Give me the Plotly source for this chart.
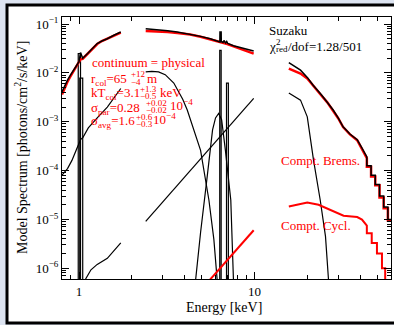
import plotly.graph_objects as go

# ---------------- data ----------------
# total model, XIS low-energy part
e_tot1 = [0.80, 0.83, 0.86, 0.89, 0.92, 0.96, 1.00, 1.02, 1.05, 1.12, 1.20, 1.27, 1.35, 1.45, 1.58, 1.73]
tot1_black = [0.0041, 0.0055, 0.0071, 0.0088, 0.0105, 0.0135, 0.0170, 0.026, 0.020, 0.025, 0.032, 0.040, 0.045, 0.050, 0.059, 0.069]
tot1_red = [0.0036, 0.0050, 0.0066, 0.0083, 0.0100, 0.0130, 0.0165, 0.019, 0.0195, 0.0245, 0.031, 0.039, 0.045, 0.050, 0.058, 0.067]

# total model, XIS 2.4-10 keV
e_tot2 = [2.40, 2.79, 3.20, 3.63, 4.30, 4.93, 5.60, 6.20, 6.35, 6.36, 6.46, 6.47, 6.62, 6.70, 6.85, 6.95, 7.05, 7.60, 8.50, 9.90]
tot2_black = [0.080, 0.077, 0.073, 0.069, 0.062, 0.056, 0.050, 0.045, 0.043, 0.069, 0.069, 0.044, 0.042, 0.046, 0.041, 0.044, 0.040, 0.036, 0.032, 0.028]
e_tot2r = [2.40, 2.79, 3.20, 3.63, 4.30, 4.93, 5.60, 6.20, 7.00, 7.60, 8.50, 9.90]
tot2_red = [0.072, 0.071, 0.069, 0.066, 0.061, 0.055, 0.049, 0.044, 0.039, 0.035, 0.030, 0.0248]

# total model, PIN part
e_tot3 = [15.7, 17.0, 18.3, 20.0, 21.6, 24.0, 26.0, 28.1, 30.0, 32.0, 35.0, 38.5, 41.0, 43.7, 43.7, 46.2, 46.2, 48.8, 48.8, 51.6, 51.6, 54.5, 54.5, 57.6, 57.6, 61.0]
tot3_black = [0.0163, 0.0135, 0.0114, 0.0081, 0.0056, 0.0036, 0.0025, 0.00174, 0.0012, 0.00079, 0.00056, 0.00043, 0.00029,
              0.00019, 0.000125, 0.000125, 8.0e-5, 8.0e-5, 5.2e-5, 5.2e-5, 3.0e-5, 3.0e-5, 1.8e-5, 1.8e-5, 1.0e-5, 1.0e-5]
tot3_red = [0.0123, 0.0110, 0.0097, 0.0077, 0.0054, 0.0035, 0.0025, 0.0017, 0.00118, 0.00078, 0.00055, 0.00042, 0.00028,
            0.00018, 0.00012, 0.00012, 7.6e-5, 7.6e-5, 5.0e-5, 5.0e-5, 2.8e-5, 2.8e-5, 1.7e-5, 1.7e-5, 9.5e-6, 9.5e-6]

# low-energy continuum component (XIS 0.8-1.73)
e_comp1 = [0.80, 0.86, 0.91, 0.97, 1.02, 1.05, 1.13, 1.27, 1.45, 1.73]
comp1 = [8.1e-5, 1.1e-4, 1.6e-4, 2.8e-4, 4.3e-4, 4.7e-4, 7.5e-4, 1.2e-3, 2.0e-3, 4.8e-3]
e_comp1b = [1.09, 1.17, 1.27, 1.45, 1.73]
comp1b = [6.0e-7, 9.3e-7, 1.2e-6, 1.6e-6, 3.3e-6]

# narrow line near 1 keV (histogram bins)
e_line1a = [0.99, 0.99, 1.02, 1.02]
line1a = [4e-7, 0.025, 0.025, 4e-7]
e_line1b = [1.01, 1.01, 1.05, 1.05]
line1b = [4e-7, 0.0078, 0.0078, 4e-7]

# components in 2.4-10 keV
e_pow = [2.40, 4.93, 9.90]
pow_black = [9.1e-6, 1.7e-4, 3.0e-3]
e_bb = [2.40, 2.60, 2.84, 3.10, 3.47, 3.90, 4.14, 4.51, 4.93, 5.50, 5.87, 6.15]
bb = [0.0105, 0.0108, 0.0105, 0.0092, 0.0062, 0.0029, 1.74e-3, 6.8e-4, 2.6e-4, 2.5e-5, 3.9e-6, 5e-7]
e_gau = [4.60, 4.93, 5.38, 5.77, 6.00, 6.25, 6.50, 6.83, 7.33, 7.60]
gau = [5e-7, 5.4e-6, 7.6e-5, 6.8e-4, 1.2e-3, 1.48e-3, 1.1e-3, 2.6e-4, 2.5e-5, 5e-7]
e_fe1 = [6.34, 6.34, 6.46, 6.46]
fe1 = [4e-7, 0.029, 0.029, 4e-7]
e_fe2 = [6.93, 6.93, 7.10, 7.10]
fe2 = [4e-7, 0.0062, 0.0062, 4e-7]
e_cyc2 = [5.50, 9.90]
cyc2 = [5.5e-7, 6.0e-6]

# PIN components
e_brems = [15.7, 18.3, 20.0, 20.8, 21.7, 23.7, 25.4, 26.5]
brems = [3.9e-3, 2.77e-3, 1.26e-3, 4.3e-4, 1.66e-4, 2.5e-5, 4.5e-6, 5e-7]
e_cycl = [15.7, 20.0, 23.2, 28.2, 32.2, 38.5, 41.0, 43.7, 43.7, 46.6, 46.6, 49.9, 49.9, 53.3, 53.3, 55.6, 55.6]
cycl = [1.84e-5, 2.22e-5, 2.0e-5, 1.46e-5, 1.19e-5, 1.12e-5, 9.9e-6, 7.5e-6, 5.2e-6, 5.2e-6, 3.3e-6, 3.3e-6, 2.0e-6, 2.0e-6, 1.0e-6, 1.0e-6, 4e-7]

x_ticks = [1, 10]
x_ticktext = ["1", "10"]
y_ticks = [1e-6, 1e-5, 1e-4, 1e-3, 1e-2, 1e-1]
y_ticktext = ["10<sup>−6</sup>", "10<sup>−5</sup>", "10<sup>−4</sup>", "10<sup>−3</sup>", "10<sup>−2</sup>", "10<sup>−1</sup>"]

# ---------------- figure ----------------
W_IMG, H_IMG = 394, 325
L, R, T, B = 62, 3, 17, 46
PW = W_IMG - L - R
PH = H_IMG - T - B


def px(x):
    return (x - L) / PW


def py(y):
    return (H_IMG - B - y) / PH


RED = "#ff0000"
FONT = "Liberation Serif"

fig = go.Figure()


def add(x, y, color="black", width=1.2):
    fig.add_trace(go.Scatter(x=x, y=y, mode="lines", line=dict(color=color, width=width),
                             showlegend=False, hoverinfo="skip"))


# components
add(e_comp1, comp1)
add(e_comp1b, comp1b)
add(e_line1a, line1a)
add(e_line1b, line1b)
add(e_pow, pow_black)
add(e_bb, bb)
add(e_gau, gau)
add(e_fe1, fe1)
add(e_fe2, fe2)
add(e_cyc2, cyc2, RED, 2)
add(e_brems, brems)
add(e_cycl, cycl, RED, 2)
# totals
add(e_tot1, tot1_red, RED, 2.5)
add(e_tot2r, tot2_red, RED, 2.5)
add(e_tot3, tot3_red, RED, 2.5)
add(e_tot1, tot1_black, "black", 1.5)
add(e_tot2, tot2_black, "black", 1.5)
add(e_tot3, tot3_black, "black", 1.5)

x_minor = [0.9, 2, 3, 4, 5, 6, 7, 8, 9, 20, 30, 40, 50, 60]
y_minor = [m * 10.0 ** k for k in range(-7, 0) for m in range(2, 10)]

axis_common = dict(type="log", ticks="inside", ticklen=7, tickwidth=1, tickcolor="black",
                   showline=True, linecolor="black", linewidth=1, mirror="allticks",
                   showgrid=False, zeroline=False,
                   tickfont=dict(family=FONT, size=13, color="black"))

fig.update_xaxes(range=[-0.0969, 1.7782], tickmode="array", tickvals=x_ticks, ticktext=x_ticktext,
                 minor=dict(tickmode="array", tickvals=x_minor, ticks="inside", ticklen=4,
                            tickcolor="black", showgrid=False),
                 **axis_common)
fig.update_yaxes(range=[-6.22, -0.855], tickmode="array", tickvals=y_ticks, ticktext=y_ticktext,
                 minor=dict(tickmode="array", tickvals=y_minor, ticks="inside", ticklen=4,
                            tickcolor="black", showgrid=False),
                 **axis_common)

# outer frame
fig.add_shape(type="rect", xref="paper", yref="paper", layer="below",
              x0=px(7), x1=px(420), y0=py(323), y1=py(5),
              line=dict(color="black", width=3), fillcolor="white")

ann = []


def text(x, y, s, color="black", size=13, anchor="middle", **kw):
    d = dict(x=px(x), y=py(y), xref="paper", yref="paper", text=s, showarrow=False,
             xanchor="left", yanchor=anchor, borderpad=0,
             font=dict(family=FONT, size=size, color=color))
    d.update(kw)
    ann.append(d)


def line_main(x, yc, s, color):
    # anchor at the top of a plain text line so subscripts don't shift it
    text(x, yc - 8, s, color, anchor="top")


def stacked(x, yc, sup, sub, color, size=9):
    text(x, yc - 3.5, sup, color, size=size)
    text(x, yc + 3.5, sub, color, size=size)


text(91, 62, "continuum = physical", RED)

line_main(90, 78, "r<sub>col</sub>=65", RED)
stacked(129.5, 78, "+12", "−4", RED)
line_main(146, 78, "m", RED)

line_main(90, 92, "kT<sub>col</sub>=3.1", RED)
stacked(138.5, 92, "+1.3", "−0.5", RED)
line_main(159, 92, "keV", RED)

line_main(90, 106.5, "σ<sub>par</sub>=0.28", RED)
stacked(145, 106.5, "+0.02", "−0.02", RED)
text(169, 104.5, "10<sup>−4</sup>", RED)

line_main(90, 120.5, "σ<sub>avg</sub>=1.6", RED)
stacked(134.5, 120.5, "+0.6", "−0.3", RED)
text(152, 118.5, "10<sup>−4</sup>", RED)

text(268, 31, "Suzaku")
line_main(268, 46, "χ", "black")
stacked(275, 45, "2", "red", "black")
line_main(287, 46, "/dof=1.28/501", "black")

text(280, 160, "Compt. Brems.", RED)
text(280, 225, "Compt. Cycl.", RED)
# axis titles
text(224, 307, "Energy [keV]", size=14, xanchor="center")
text(21, 148, "Model Spectrum [photons/cm<sup>2</sup>/s/keV]", size=14, xanchor="center", textangle=-90)

fig.update_layout(width=W_IMG, height=H_IMG, margin=dict(l=L, r=R, t=T, b=B, pad=0),
                  paper_bgcolor="#dde4f1", plot_bgcolor="white", annotations=ann,
                  showlegend=False)

fig.write_html("out.html")
